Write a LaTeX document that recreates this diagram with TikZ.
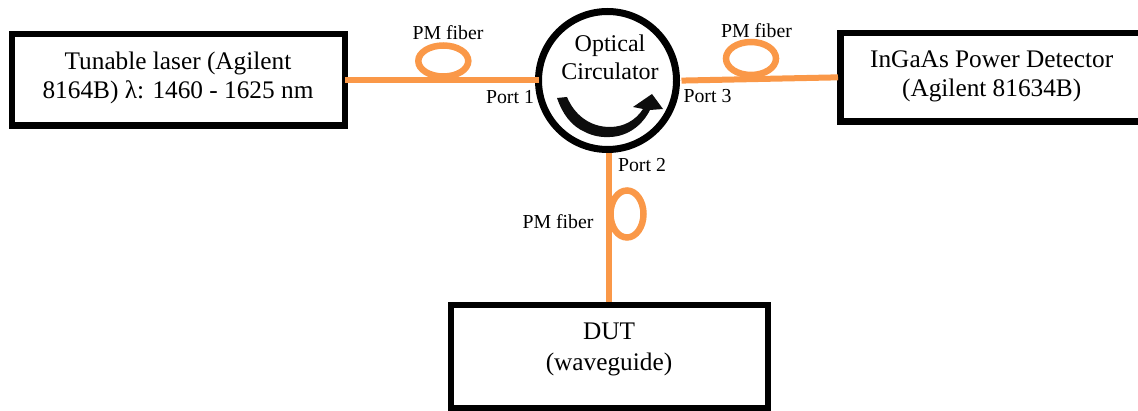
\documentclass[tikz,border=0pt]{standalone}
\usepackage{fontspec}
\setmainfont{Liberation Serif}
\definecolor{fiberorange}{RGB}{250,152,72}
\tikzset{
  x=1pt,y=-1pt,
  boxnode/.style={draw=black,line width=6.5pt,fill=white,inner sep=0pt,outer sep=0pt,align=center,anchor=north west},
  fiber/.style={draw=fiberorange,line width=6pt},
  loopline/.style={draw=fiberorange,line width=6.5pt},
  big/.style={font=\fontsize{25.3}{29.5}\selectfont,align=center,inner sep=0pt},
  small/.style={font=\fontsize{19.8}{22}\selectfont,inner sep=0pt},
}
\begin{document}
\begin{tikzpicture}
\useasboundingbox (0,0) rectangle (1138,411);
% boxes
\node[boxnode,minimum width=333.2pt,minimum height=91.7pt] (laser) at (11.8,34) {};
\node[boxnode,minimum width=310pt,minimum height=88.5pt] (det) at (840.5,33) {};
\node[boxnode,line width=6pt,minimum width=316.2pt,minimum height=103.2pt] (dut) at (451.3,305.3) {};
\node[big] (lasertxt) at (178,78) {Tunable laser (Agilent\\8164B) λ: 1460 - 1625 nm};
\node[big] (dettxt) at (991.7,76.5) {InGaAs Power Detector\\(Agilent 81634B)};
\node[big,font=\fontsize{25.3}{31}\selectfont] (duttxt) at (609,349) {DUT\\(waveguide)};
% circulator
\node[circle,draw=black,line width=7pt,minimum size=138pt,inner sep=0pt,outer sep=0pt,fill=white] (circ) at (607.5,80.5) {};
\node[big,font=\fontsize{24}{28}\selectfont] (circtxt) at (610,57.5) {Optical\\Circulator};
% rotation arrow
\fill[black!95] (557,98) .. controls (562,113) and (571,126) .. (585,132)
  .. controls (593,136) and (601,137.5) .. (610,137)
  .. controls (627,136.5) and (642,126) .. (650,110) -- (663,109) -- (652,94) -- (633,107) -- (643,109)
  .. controls (636,120) and (624,127) .. (610,127)
  .. controls (589,127) and (574,114) .. (567,97) -- cycle;
% fibers
\coordinate (a1) at (345,80);
\coordinate (a2) at (538,80);
\coordinate (b1) at (682,80.7);
\coordinate (b2) at (838,77.3);
\coordinate (c1) at (609,153);
\coordinate (c2) at (609,302);
\draw[fiber] (laser.east |- a1) -- (circ.west |- a2);
\draw[fiber,shorten <=5pt,shorten >=2.5pt] (circ.east |- b1) -- (det.west |- b2);
\draw[fiber,shorten <=4pt,shorten >=3pt] (circ.south -| c1) -- (dut.north -| c2);
\draw[loopline] (443.3,61) ellipse (25 and 15.5);
\draw[loopline] (751,58.5) ellipse (25 and 16.5);
\draw[loopline] (627,214) ellipse (16.5 and 23.5);
% labels
\node[small] (pm1) at (448,33) {PM fiber};
\node[small] (pm2) at (756.5,31) {PM fiber};
\node[small] (pm3) at (558,222) {PM fiber};
\node[small] (p1) at (510,97) {Port 1};
\node[small] (p2) at (642,165) {Port 2};
\node[small] (p3) at (707.5,96) {Port 3};
\end{tikzpicture}
\end{document}
